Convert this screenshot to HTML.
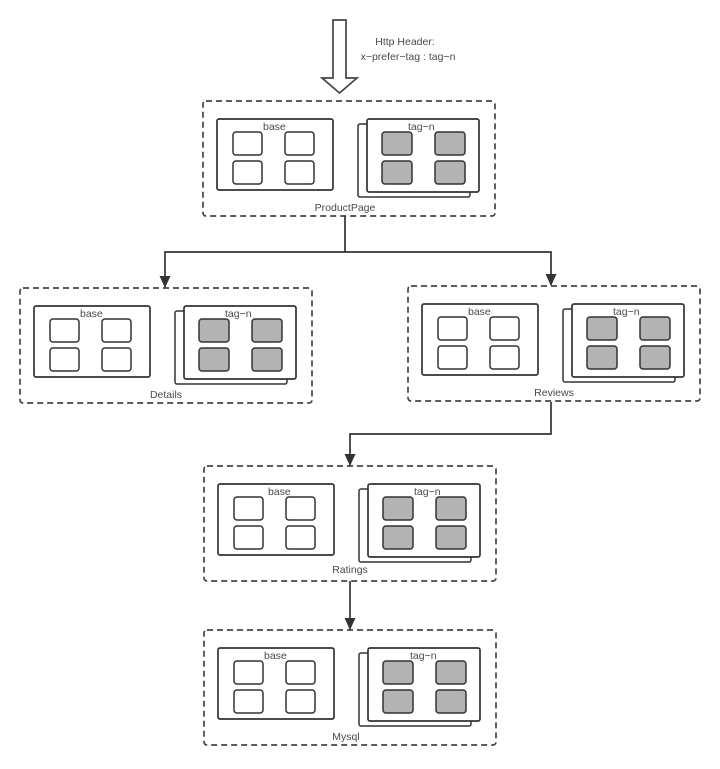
<!DOCTYPE html>
<html><head><meta charset="utf-8"><style>
html,body{margin:0;padding:0;background:#fff;}
svg{display:block;font-family:"Liberation Sans",sans-serif;}
text{fill:#4a4a4a;font-size:10.5px;}
</style></head><body>
<svg width="720" height="769" viewBox="0 0 720 769">
<defs>
<g id="blk">
<rect x="0" y="0" width="292" height="115" rx="3" fill="none" stroke="#444" stroke-width="1.7" stroke-dasharray="6,4"/>
<rect x="14" y="18" width="116" height="71" rx="2" fill="#fff" stroke="#333" stroke-width="1.7"/>
<rect x="30" y="31" width="29" height="23" rx="3" fill="#fff" stroke="#333" stroke-width="1.5"/>
<rect x="82" y="31" width="29" height="23" rx="3" fill="#fff" stroke="#333" stroke-width="1.5"/>
<rect x="30" y="60" width="29" height="23" rx="3" fill="#fff" stroke="#333" stroke-width="1.5"/>
<rect x="82" y="60" width="29" height="23" rx="3" fill="#fff" stroke="#333" stroke-width="1.5"/>
<rect x="155" y="23" width="112" height="73" rx="2" fill="#fff" stroke="#333" stroke-width="1.5"/>
<rect x="164" y="18" width="112" height="73" rx="2" fill="#fff" stroke="#333" stroke-width="1.7"/>
<rect x="179" y="31" width="30" height="23" rx="3" fill="#b3b3b3" stroke="#333" stroke-width="1.5"/>
<rect x="232" y="31" width="30" height="23" rx="3" fill="#b3b3b3" stroke="#333" stroke-width="1.5"/>
<rect x="179" y="60" width="30" height="23" rx="3" fill="#b3b3b3" stroke="#333" stroke-width="1.5"/>
<rect x="232" y="60" width="30" height="23" rx="3" fill="#b3b3b3" stroke="#333" stroke-width="1.5"/>
</g>
<marker id="ah" markerWidth="12" markerHeight="12" refX="11" refY="6" orient="auto" markerUnits="userSpaceOnUse">
<path d="M0,0.5 L12,6 L0,11.5 z" fill="#333"/></marker>
</defs>

<path d="M333,20 H346 V78 H357 L339.5,93 L322,78 H333 Z" fill="#fff" stroke="#444" stroke-width="1.7"/>
<text x="405" y="45" text-anchor="middle">Http Header:</text>
<text x="408" y="60" text-anchor="middle">x−prefer−tag : tag−n</text>

<g transform="translate(203,101)"><use href="#blk"/>
<text x="60" y="29">base</text><text x="205" y="29">tag−n</text>
<text x="142" y="110" text-anchor="middle">ProductPage</text></g>

<g transform="translate(20,288)"><use href="#blk"/>
<text x="60" y="29">base</text><text x="205" y="29">tag−n</text>
<text x="146" y="110" text-anchor="middle">Details</text></g>

<g transform="translate(408,286)"><use href="#blk"/>
<text x="60" y="29">base</text><text x="205" y="29">tag−n</text>
<text x="146" y="110" text-anchor="middle">Reviews</text></g>

<g transform="translate(204,466)"><use href="#blk"/>
<text x="64" y="29">base</text><text x="210" y="29">tag−n</text>
<text x="146" y="107" text-anchor="middle">Ratings</text></g>

<g transform="translate(204,630)"><use href="#blk"/>
<text x="60" y="29">base</text><text x="206" y="29">tag−n</text>
<text x="142" y="110" text-anchor="middle">Mysql</text></g>

<g fill="none" stroke="#333" stroke-width="1.7">
<path d="M345,216 V252 H165 V287" marker-end="url(#ah)"/>
<path d="M345,252 H551 V285" marker-end="url(#ah)"/>
<path d="M551,402 V434 H350 V465" marker-end="url(#ah)"/>
<path d="M350,581 V629" marker-end="url(#ah)"/>
</g>
</svg>
</body></html>
